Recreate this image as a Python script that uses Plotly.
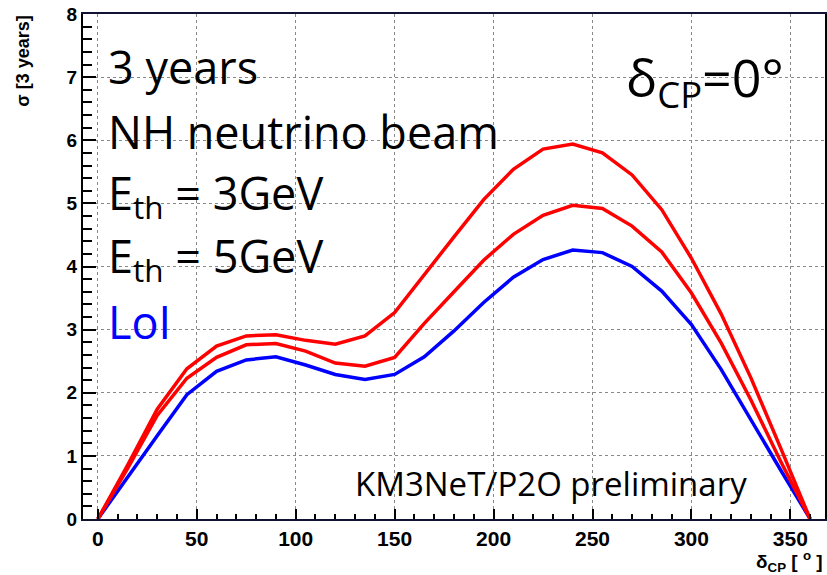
import plotly.graph_objects as go

# Data
delta_cp = [0, 15, 30, 45, 60, 75, 90, 105, 120, 135, 150, 165, 180, 195, 210,
            225, 240, 255, 270, 285, 300, 315, 330, 345, 360]
sigma_eth3 = [0, 0.85, 1.74, 2.38, 2.74, 2.90, 2.92, 2.83, 2.77, 2.90, 3.27, 3.88,
              4.47, 5.06, 5.54, 5.86, 5.94, 5.80, 5.45, 4.90, 4.13, 3.25, 2.24, 1.13, 0]
sigma_eth5 = [0, 0.80, 1.64, 2.23, 2.56, 2.76, 2.78, 2.66, 2.47, 2.42, 2.56, 3.10,
              3.60, 4.10, 4.51, 4.81, 4.97, 4.92, 4.64, 4.23, 3.58, 2.79, 1.89, 0.92, 0]
sigma_loi = [0, 0.67, 1.32, 1.97, 2.34, 2.52, 2.57, 2.44, 2.29, 2.21, 2.29, 2.57,
             2.98, 3.43, 3.83, 4.11, 4.26, 4.22, 4.00, 3.61, 3.08, 2.37, 1.57, 0.78, 0]
x_ticks = [0, 50, 100, 150, 200, 250, 300, 350]
y_ticks = [0, 1, 2, 3, 4, 5, 6, 7, 8]

W, H = 827, 575
ML, MR, MT, MB = 83, 0, 14, 56
PW, PH = W - ML - MR, H - MT - MB


def px(x):
    return (x - ML) / PW


def py(y):
    return (H - MB - y) / PH


fig = go.Figure()
for ys, col in [(sigma_loi, "#0000ff"), (sigma_eth5, "#ff0000"), (sigma_eth3, "#ff0000")]:
    fig.add_trace(go.Scatter(x=delta_cp, y=ys, mode="lines",
                             line=dict(color=col, width=3.5), showlegend=False,
                             hoverinfo="skip"))

tickfont_x = dict(family="Liberation Sans", size=21, color="black", weight="bold")
tickfont_y = dict(family="Liberation Sans", size=19, color="black", weight="bold")

fig.update_xaxes(range=[-7.5, 367.5], tickvals=x_ticks, ticks="inside", ticklen=10,
                 tickwidth=1.5, tickcolor="black", tickfont=tickfont_x,
                 showline=True, linecolor="#111133", linewidth=2, mirror=True,
                 showgrid=True, gridcolor="#888888", griddash="dot", gridwidth=1,
                 zeroline=False,
                 minor=dict(dtick=10, tick0=0, ticks="inside", ticklen=5,
                            tickcolor="black", tickwidth=1.5, showgrid=False))
fig.update_yaxes(range=[0, 8], tickvals=y_ticks, ticks="inside", ticklen=13,
                 tickwidth=1.5, tickcolor="black", tickfont=tickfont_y,
                 showline=True, linecolor="black", linewidth=2, mirror=True,
                 showgrid=True, gridcolor="#888888", griddash="dot", gridwidth=1,
                 zeroline=False,
                 minor=dict(dtick=0.2, tick0=0, ticks="inside", ticklen=9,
                            tickcolor="black", tickwidth=1.5, showgrid=False))

txt = "Open Sans"
big = 45
ann = []
left_lines = [("3 years", 66, "black"),
              ("NH neutrino beam", 131, "black"),
              ("E<sub>th</sub> = 3GeV", 195, "black"),
              ("E<sub>th</sub> = 5GeV", 258, "black"),
              ("LoI", 321, "#0000ff")]
for t, yc, c in left_lines:
    ann.append(dict(text=t, x=px(106), y=py(yc), xref="paper", yref="paper",
                    xanchor="left", yanchor="middle", showarrow=False,
                    font=dict(family=txt, size=big, color=c)))
ann.append(dict(text="δ<sub>CP</sub>=0°", x=px(788), y=py(80), xref="paper", yref="paper",
                xanchor="right", yanchor="middle", showarrow=False,
                font=dict(family=txt, size=52, color="black")))
ann.append(dict(text="KM3NeT/P2O preliminary", x=px(751), y=py(483), xref="paper",
                yref="paper", xanchor="right", yanchor="middle", showarrow=False,
                font=dict(family=txt, size=33, color="black")))
ann.append(dict(text="σ [3 years]", x=px(22), y=1.0, xref="paper", yref="paper",
                xanchor="center", yanchor="top", textangle=-90, showarrow=False,
                font=dict(family="Liberation Sans", size=18, color="black", weight="bold")))
ann.append(dict(text="δ<sub>CP</sub> [ <sup>o</sup> ]", x=1.0, y=py(561), xref="paper",
                yref="paper", xanchor="right", yanchor="middle", showarrow=False,
                font=dict(family="Liberation Sans", size=19, color="black", weight="bold")))

fig.update_layout(width=W, height=H, margin=dict(l=ML, r=MR, t=MT, b=MB, pad=0),
                  paper_bgcolor="white", plot_bgcolor="white", annotations=ann)

fig.write_html("out.html")
